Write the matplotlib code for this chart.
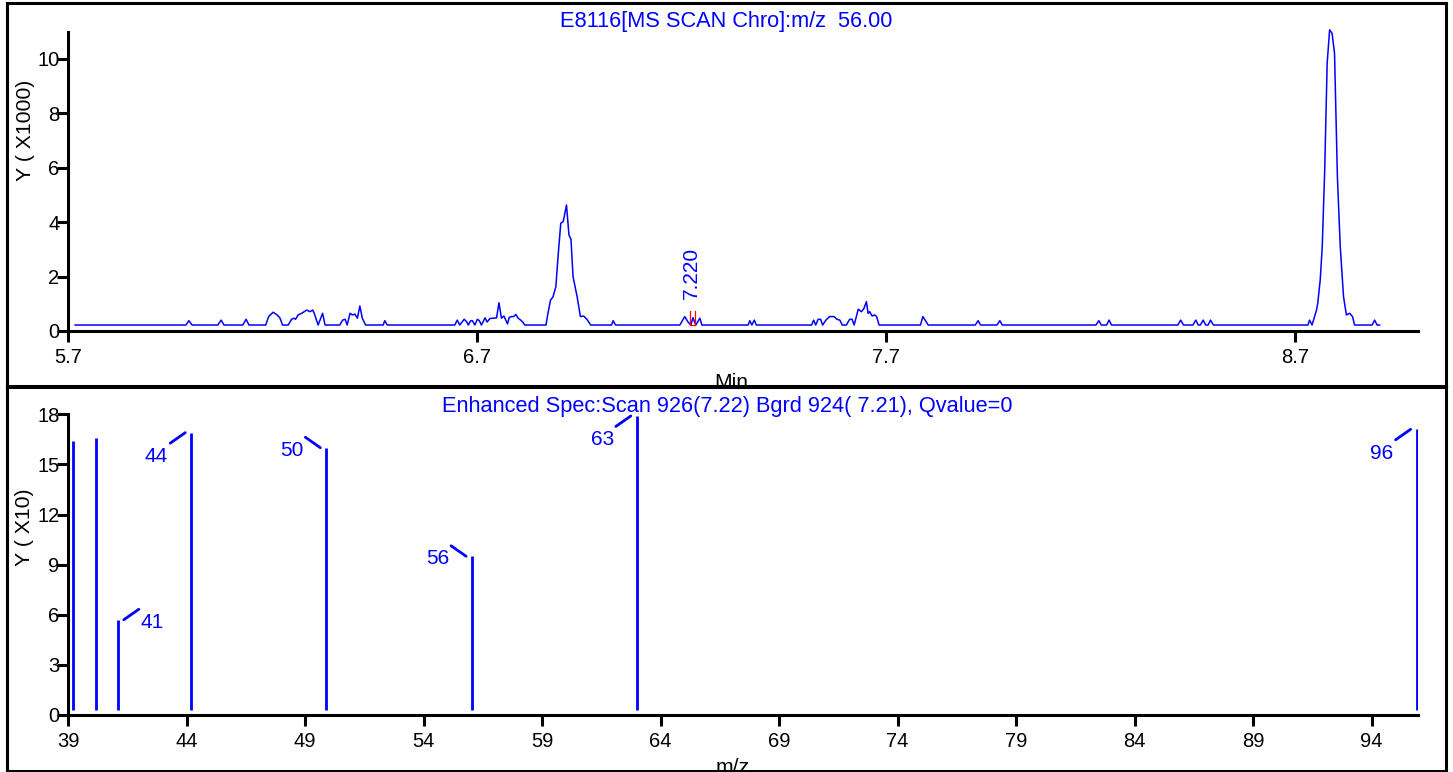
import matplotlib
matplotlib.use('Agg')
import numpy as np
import matplotlib.pyplot as plt
from matplotlib.transforms import ScaledTranslation

# chromatogram m/z 56 (time in min, counts)
rt = [5.718, 5.989, 5.996, 6.004, 6.067, 6.075, 6.082, 6.128, 6.136, 6.143,
      6.184, 6.191, 6.202, 6.212, 6.219, 6.225, 6.239, 6.247, 6.253, 6.257,
      6.263, 6.272, 6.284, 6.292, 6.299, 6.304, 6.312, 6.323, 6.329, 6.365,
      6.372, 6.378, 6.383, 6.390, 6.396, 6.402, 6.408, 6.414, 6.420, 6.428,
      6.471, 6.475, 6.481,
      6.646, 6.652, 6.658, 6.669, 6.675, 6.679, 6.685, 6.689, 6.695, 6.701,
      6.706, 6.711, 6.720, 6.725, 6.732, 6.748, 6.754, 6.760, 6.766, 6.775,
      6.779, 6.785, 6.790, 6.795, 6.801, 6.807, 6.812, 6.817,
      6.869, 6.873, 6.880, 6.886, 6.893, 6.899, 6.905, 6.911, 6.919, 6.925,
      6.930, 6.935, 6.945, 6.953, 6.961, 6.969, 6.978,
      7.029, 7.033, 7.039, 7.196, 7.208, 7.216, 7.223, 7.228, 7.235, 7.245,
      7.250, 7.363, 7.367, 7.372, 7.378, 7.383, 7.518, 7.523, 7.528, 7.534,
      7.540, 7.545, 7.553, 7.562, 7.573, 7.580, 7.587, 7.593, 7.603, 7.611,
      7.617, 7.622, 7.632, 7.640, 7.646, 7.652, 7.656, 7.660, 7.666, 7.672,
      7.677, 7.683, 7.784, 7.790, 7.803,
      7.918, 7.925, 7.931, 7.971, 7.978, 7.984, 8.213, 8.220, 8.226, 8.239,
      8.245, 8.251, 8.413, 8.420, 8.427, 8.450, 8.457, 8.463, 8.468, 8.475,
      8.481, 8.487, 8.493, 8.500, 8.731, 8.735, 8.741, 8.752, 8.755, 8.761,
      8.766, 8.772, 8.778, 8.784, 8.790, 8.796, 8.803, 8.810, 8.818, 8.825,
      8.833, 8.840, 8.845, 8.888, 8.894, 8.900, 8.906]
counts = [220, 220, 380, 220, 220, 400, 220, 220, 430, 220,
          220, 530, 690, 590, 470, 220, 220, 430, 470, 430,
          590, 650, 770, 710, 770, 590, 220, 650, 220, 220,
          400, 430, 220, 650, 590, 620, 470, 920, 470, 220,
          220, 380, 220,
          220, 400, 220, 430, 340, 220, 380, 380, 220, 430,
          380, 220, 480, 330, 460, 480, 1040, 470, 550, 260,
          500, 530, 530, 610, 470, 400, 330, 220,
          220, 590, 1140, 1250, 1630, 2860, 3960, 4020, 4630, 3530,
          3370, 2000, 1260, 530, 550, 430, 220,
          220, 380, 220, 220, 530, 330, 220, 490, 220, 470,
          220, 220, 380, 220, 400, 220, 220, 400, 220, 430,
          430, 220, 400, 530, 530, 430, 400, 220, 220, 430,
          430, 220, 800, 710, 830, 1080, 650, 710, 550, 590,
          530, 220, 220, 530, 220,
          220, 380, 220, 220, 380, 220, 220, 380, 220, 220,
          400, 220, 220, 400, 220, 220, 400, 220, 220, 400,
          220, 220, 400, 220, 220, 400, 220, 770, 1020, 1870,
          3100, 5920, 9840, 11070, 10940, 10210, 5670, 3100, 1260, 590,
          650, 530, 220, 220, 400, 220, 220]
rt_ticks = [5.7, 6.7, 7.7, 8.7]
scan_rt = 7.220
marker_rt = [7.220, 7.232]
marker_counts = [220, 735]

# enhanced spectrum of scan 926
mz = [39.2, 40.2, 41.1, 44.2, 49.9, 56.05, 63.0, 95.9]
abund = [164, 166, 57, 169, 160, 95, 179, 171]
mz_labels = ['', '', '41', '44', '50', '56', '63', '96']
mz_ticks = [39, 44, 49, 54, 59, 64, 69, 74, 79, 84, 89, 94]
stick_base = 3

chro_title = 'E8116[MS SCAN Chro]:m/z  56.00'
spec_title = 'Enhanced Spec:Scan 926(7.22) Bgrd 924( 7.21), Qvalue=0'

# leader direction for each label (x side, y side)
leader = {'41': (1, 1), '44': (-1, -1), '50': (-1, 1), '56': (-1, 1),
          '63': (-1, -1), '96': (-1, -1)}

W, H = 1453, 772
plt.rcParams['font.family'] = ['Liberation Sans', 'DejaVu Sans']
fig = plt.figure(figsize=(W / 100, H / 100), dpi=100)


def box(l, t, r, b):
    return [l / W, 1 - b / H, (r - l) / W, (b - t) / H]


frame1 = fig.add_axes(box(7, 3, 1446, 386), zorder=0)
ax1 = fig.add_axes(box(67.7, 31.7, 1418, 331), zorder=1)
frame2 = fig.add_axes(box(7, 387, 1446, 771), zorder=2)
ax2 = fig.add_axes(box(68, 414.3, 1418, 715), zorder=3)

for fr in (frame1, frame2):
    fr.set_xticks([])
    fr.set_yticks([])
    fr.set_facecolor('white')
    for s in fr.spines.values():
        s.set_linewidth(2.2)

for ax in (ax1, ax2):
    ax.spines['top'].set_visible(False)
    ax.spines['right'].set_visible(False)
    ax.spines['left'].set_linewidth(2.2)
    ax.spines['bottom'].set_linewidth(2.2)
    ax.patch.set_alpha(0)
    ax.tick_params(length=8, width=2.2, labelsize=14.5, colors='black')
    ax.tick_params(axis='y', pad=-2)
    ax.tick_params(axis='x', pad=4)

# chromatogram
ax1.plot(rt, np.array(counts) / 1000, color='blue', lw=1.1, clip_on=False)
ax1.plot([marker_rt[0], marker_rt[0], marker_rt[1], marker_rt[1]],
         np.array([marker_counts[1], marker_counts[0], marker_counts[0], marker_counts[1]]) / 1000,
         color='red', lw=0.9)
ax1.annotate('%.3f' % scan_rt, xy=(scan_rt, marker_counts[1] / 1000), xytext=(2, 12),
             textcoords='offset pixels', rotation=90, ha='center', va='bottom',
             color='blue', fontsize=15)
ax1.set_xlim(5.7, 9.0)
ax1.set_ylim(0, 11.0)
ax1.set_xticks(rt_ticks)
ax1.set_xticklabels(['%.1f' % t for t in rt_ticks])
ax1.set_yticks([0, 2, 4, 6, 8, 10])
ax1.set_ylabel('Y ( X1000)', fontsize=15.3)
ax1.yaxis.set_label_coords(-0.0316, 0.669)
ax1.yaxis.label.set_va('center')
ax1.set_xlabel('Min', fontsize=15.2)
ax1.xaxis.set_label_coords(0.4915, -0.1904)
ax1.xaxis.label.set_va('baseline')

# spectrum
ax2.vlines(mz, stick_base / 10, np.array(abund) / 10, color='blue', lw=2)
ax2.set_xlim(39, 95.96)
ax2.set_ylim(0, 18)
ax2.set_xticks(mz_ticks)
ax2.set_yticks([0, 3, 6, 9, 12, 15, 18])
ax2.set_ylabel('Y ( X10)', fontsize=15.3)
ax2.yaxis.set_label_coords(-0.0319, 0.625)
ax2.yaxis.label.set_va('center')
ax2.set_xlabel('m/z', fontsize=15.2)
ax2.xaxis.set_label_coords(0.492, -0.1927)
ax2.xaxis.label.set_va('baseline')


def px_shift(dx, dy):
    return ax2.transData + ScaledTranslation(dx / fig.dpi, dy / fig.dpi, fig.dpi_scale_trans)


for m, a, lab in zip(mz, abund, mz_labels):
    if not lab:
        continue
    sx, sy = leader[lab]
    top = a / 10
    ax2.annotate('', xy=(m, top), xycoords=px_shift(6 * sx, 0),
                 xytext=(m, top), textcoords=px_shift(21 * sx, 10.5 * sy),
                 arrowprops=dict(arrowstyle='-', color='blue', lw=2,
                                 shrinkA=0, shrinkB=0))
    ax2.annotate(lab, xy=(m, top), xytext=(23 * sx, -24 if sy < 0 else -2.5),
                 textcoords='offset pixels', ha='left' if sx > 0 else 'right',
                 va='center', color='blue', fontsize=15)

fig.text(726.5 / W, 1 - 27 / H, chro_title, ha='center', va='baseline',
         color='blue', fontsize=15.7, zorder=5)
fig.text(727.5 / W, 1 - 412 / H, spec_title, ha='center', va='baseline',
         color='blue', fontsize=15.7, zorder=5)

fig.savefig('out.png', dpi=100)
